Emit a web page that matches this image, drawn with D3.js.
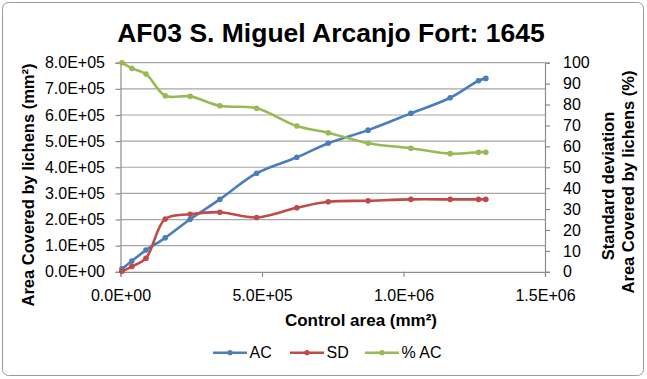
<!DOCTYPE html>
<html>
<head>
<meta charset="utf-8">
<script src="https://cdn.jsdelivr.net/npm/d3@7"></script>
<style>
  body { margin: 0; background: #fff; }
  svg text { font-family: "Liberation Sans", Arial, sans-serif; fill: #000; }
</style>
</head>
<body>
<svg id="chart" width="647" height="379"></svg>
<script>
// values
var controlArea = [5e3, 40e3, 90e3, 158e3, 246e3, 351e3, 481e3, 623e3, 734e3, 875e3, 1026e3, 1165e3, 1265e3, 1291e3];
var acValues = [11e3, 41e3, 83e3, 130e3, 201e3, 277e3, 377e3, 438e3, 492e3, 542e3, 606e3, 666e3, 731e3, 740e3];
var sdValues = [2e3, 20e3, 52e3, 202e3, 220e3, 228e3, 208e3, 245e3, 268e3, 272e3, 277e3, 277e3, 277e3, 277e3];
var pctValues = [100, 97.3, 94.6, 84.2, 83.9, 79.4, 78.2, 69.7, 66.5, 61.5, 59.1, 56.5, 57.2, 57.2];

var leftTicks = [0, 1e5, 2e5, 3e5, 4e5, 5e5, 6e5, 7e5, 8e5];
var rightTicks = [0, 10, 20, 30, 40, 50, 60, 70, 80, 90, 100];
var xTicks = [0, 5e5, 1e6, 1.5e6];
var seriesNames = ["AC", "SD", "% AC"];

var colours = d3.scaleOrdinal().domain(seriesNames).range(["#4a7ebb", "#be4b48", "#98b954"]);

var svg = d3.select("#chart");
var plot = {left: 120.5, right: 545, top: 62.7, bottom: 271.8};

var xScale = d3.scaleLinear().domain([0, 1.5e6]).range([plot.left, plot.right]);
var yLeft = d3.scaleLinear().domain([0, 8e5]).range([plot.bottom, plot.top]);
var yRight = d3.scaleLinear().domain([0, 100]).range([plot.bottom, plot.top]);

var sci = function(v){ return v.toExponential(1).replace(/e([+-])(\d)$/, "E$10$2").replace("e", "E"); };

// outer frame
svg.append("rect")
  .attr("x", 2.5).attr("y", 2.5).attr("width", 641).attr("height", 373)
  .attr("rx", 6).attr("fill", "#fff").attr("stroke", "#9a9a9a").attr("stroke-width", 1);

// title
svg.append("text")
  .attr("x", 331).attr("y", 41.5)
  .attr("text-anchor", "middle")
  .style("font-size", "26.5px").style("font-weight", "bold")
  .text("AF03 S. Miguel Arcanjo Fort: 1645");

// gridlines
svg.append("g").selectAll("line")
  .data(leftTicks.slice(1))
  .enter().append("line")
  .attr("x1", plot.left).attr("x2", plot.right)
  .attr("y1", d => yLeft(d)).attr("y2", d => yLeft(d))
  .attr("stroke", "#a6a6a6").attr("stroke-width", 1.2);

// axes
var leftAxis = d3.axisLeft(yLeft).tickValues(leftTicks).tickFormat(sci).tickSizeOuter(0).tickSize(5).tickPadding(10.5);
var rightAxis = d3.axisRight(yRight).tickValues(rightTicks).tickSizeOuter(0).tickSize(5).tickPadding(13);
var bottomAxis = d3.axisBottom(xScale).tickValues(xTicks).tickFormat(sci).tickSizeOuter(0).tickSize(5).tickPadding(12.5);

var gl = svg.append("g").attr("transform", "translate(" + plot.left + ",0)").call(leftAxis);
var gr = svg.append("g").attr("transform", "translate(" + plot.right + ",0)").call(rightAxis);
var gb = svg.append("g").attr("transform", "translate(0," + plot.bottom + ")").call(bottomAxis);

[gl, gr, gb].forEach(function(g){
  g.selectAll("path, line").attr("stroke", "#8c8c8c").attr("stroke-width", 1.2);
  g.selectAll("text").style("font-size", "16px").style("font-family", "Liberation Sans, Arial, sans-serif");
});

// axis titles
svg.append("text")
  .attr("transform", "translate(34,185) rotate(-90)")
  .attr("text-anchor", "middle")
  .style("font-size", "16.5px").style("font-weight", "bold")
  .text("Area Covered by lichens (mm²)");

svg.append("text")
  .attr("transform", "translate(614,186) rotate(-90)")
  .attr("text-anchor", "middle")
  .style("font-size", "16.5px").style("font-weight", "bold")
  .text("Standard deviation");

svg.append("text")
  .attr("transform", "translate(634,182) rotate(-90)")
  .attr("text-anchor", "middle")
  .style("font-size", "16.5px").style("font-weight", "bold")
  .text("Area Covered by lichens (%)");

svg.append("text")
  .attr("x", 361).attr("y", 326)
  .attr("text-anchor", "middle")
  .style("font-size", "17px").style("font-weight", "bold")
  .text("Control area (mm²)");

// series
var series = [
  {name: "AC", values: acValues, y: yLeft},
  {name: "SD", values: sdValues, y: yLeft},
  {name: "% AC", values: pctValues, y: yRight}
];

var linesGroup = svg.append("g");
series.forEach(function(s){
  var pts = controlArea.map((x, i) => [xScale(x), s.y(s.values[i])]);
  var line = d3.line().curve(d3.curveCatmullRom.alpha(0.5));
  linesGroup.append("path")
    .attr("d", line(pts))
    .attr("fill", "none")
    .attr("stroke", colours(s.name))
    .attr("stroke-width", 2.6);
  linesGroup.append("g").selectAll("circle")
    .data(pts)
    .enter().append("circle")
    .attr("cx", d => d[0]).attr("cy", d => d[1])
    .attr("r", 2.8)
    .attr("fill", colours(s.name));
});

// legend
var legendX = [213, 290, 365];
var legend = svg.append("g");
series.forEach(function(s, i){
  var g = legend.append("g").attr("transform", "translate(" + legendX[i] + ",352.7)");
  g.append("line").attr("x1", 0).attr("x2", 34).attr("y1", 0).attr("y2", 0)
    .attr("stroke", colours(s.name)).attr("stroke-width", 2.6);
  g.append("circle").attr("cx", 17).attr("cy", 0).attr("r", 2.6).attr("fill", colours(s.name));
  g.append("text").attr("x", 36.5).attr("y", 5.7)
    .style("font-size", "16px").text(s.name);
});
</script>
</body>
</html>
